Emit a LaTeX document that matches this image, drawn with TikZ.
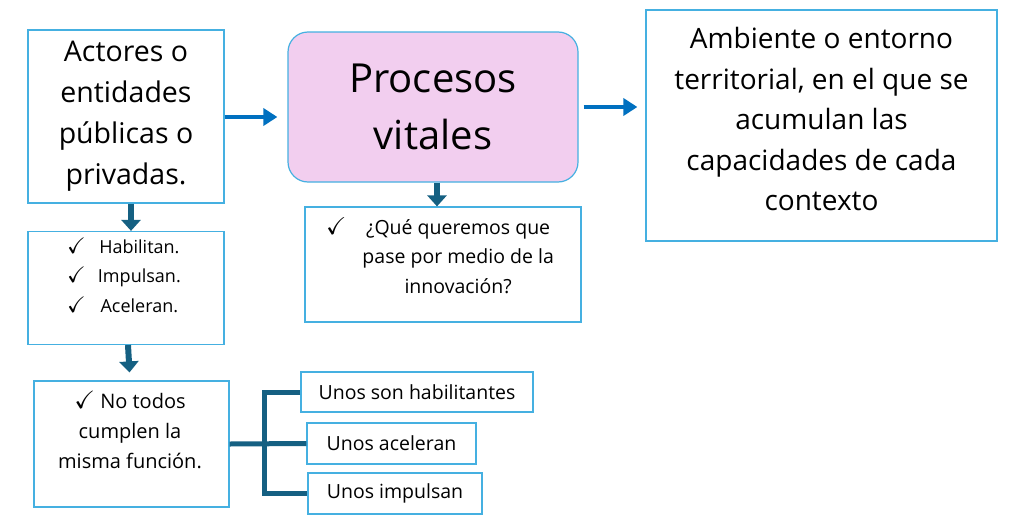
\documentclass[tikz,border=0pt]{standalone}
\usepackage{amssymb}
\usepackage{fontspec}
\setmainfont{Open Sans}
\usetikzlibrary{arrows.meta}

\definecolor{boxblue}{HTML}{45B0E1}
\definecolor{arrowblue}{HTML}{0070C0}
\definecolor{darkteal}{HTML}{156082}
\definecolor{lightpink}{HTML}{F2CEEF}

\newcommand{\tick}{\scalebox{1.25}{$\checkmark$}}

\tikzset{
    box/.style={draw=boxblue, line width=1.2pt, fill=white, inner sep=0pt},
    bigtext/.style={font=\fontsize{28.5}{41}\selectfont, align=center},
    smalltext/.style={font=\fontsize{19.5}{29.5}\selectfont, align=center},
    bluearrow/.style={arrowblue, line width=4pt, -{Triangle[length=14pt,width=17pt]}},
    downarrow/.style={darkteal, line width=6pt, -{Triangle[length=11pt,width=19pt]}},
    bracket/.style={darkteal, line width=5pt}
}

\begin{document}
\begin{tikzpicture}[x=1pt, y=-1pt]
    \useasboundingbox (0,0) rectangle (1016,530);

    % upper row
    \node[box, minimum width=196pt, minimum height=173pt, bigtext] (actbox) at (126,116.5)
        {Actores o\\entidades\\públicas o\\privadas.};
    \node[box, fill=lightpink, rounded corners=20pt, minimum width=290pt, minimum height=150pt,
        font=\fontsize{40}{57}\selectfont, align=center] (procbox) at (433,107)
        {Procesos\\vitales};
    \node[box, minimum width=351pt, minimum height=231pt] (ambbox) at (821.5,125.5) {};
    \node[bigtext, font=\fontsize{28}{40.5}\selectfont] (ambtext) at (821.5,119)
        {Ambiente o entorno\\territorial, en el que se\\acumulan las\\capacidades de cada\\contexto};

    % lists below
    \node[box, minimum width=196pt, minimum height=113pt] (habbox) at (126,288) {};
    \node[smalltext, font=\fontsize{18}{29.5}\selectfont] (habtext) at (124,277)
        {\begin{tabular}{@{}l@{\hspace{12pt}}c@{}}
            \tick & Habilitan.\\
            \tick & Impulsan.\\
            \tick & Aceleran.
        \end{tabular}};
    \node[box, minimum width=195pt, minimum height=126pt] (funbox) at (131.5,444) {};
    \node[smalltext, font=\fontsize{20}{30}\selectfont] (funtext) at (130,430)
        {\tick\ No todos\\cumplen la\\misma función.};
    \node[box, minimum width=276pt, minimum height=115pt] (quebox) at (443,264.5) {};
    \node[smalltext] (quetext) at (440,258)
        {\begin{tabular}{@{}l@{\hspace{16pt}}c@{}}
            \tick & ¿Qué queremos que\\
                  & pase por medio de la\\
                  & innovación?
        \end{tabular}};

    % roles
    \node[box, minimum width=232pt, minimum height=40pt, smalltext] (rolea) at (417,392)
        {Unos son habilitantes};
    \node[box, minimum width=169pt, minimum height=41pt, smalltext] (roleb) at (391.5,443.5)
        {Unos aceleran};
    \node[box, minimum width=174pt, minimum height=41pt, smalltext] (rolec) at (395,493.5)
        {Unos impulsan};
    \coordinate (brk) at (264,444);

    % connectors
    \draw[bluearrow, shorten >=10pt] (actbox.east |- 0,117) -- (procbox.west |- 0,117);
    \draw[bluearrow, shorten <=5pt, shorten >=8pt] (procbox.east |- 0,107) -- (ambbox.west |- 0,107);
    \draw[downarrow] ([xshift=5pt]actbox.south) -- ([xshift=5pt]habbox.north);
    \draw[downarrow, shorten >=8pt] ([xshift=2pt]habbox.south) -- ([xshift=-1.5pt]funbox.north);
    \draw[downarrow] ([xshift=4pt]procbox.south) -- ([xshift=-6pt]quebox.north);
    \draw[bracket] (funbox.east) -- (roleb.west);
    \draw[bracket] (rolea.west) -| (brk) |- (rolec.west);
\end{tikzpicture}
\end{document}
